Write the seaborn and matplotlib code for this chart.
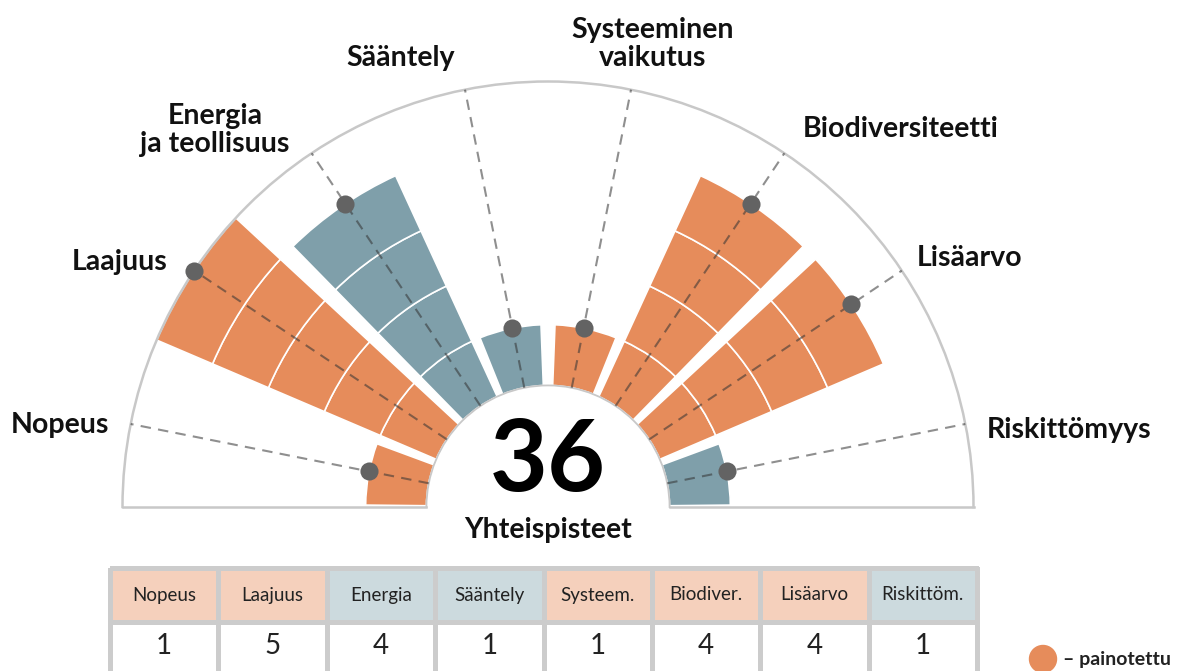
import numpy as np
import matplotlib
matplotlib.use("Agg")
import matplotlib.pyplot as plt
from matplotlib.colors import ListedColormap
from matplotlib.patches import Ellipse
import seaborn as sns

# Data
categories = ["Nopeus", "Laajuus", "Energia\nja teollisuus", "Sääntely",
              "Systeeminen\nvaikutus", "Biodiversiteetti", "Lisäarvo", "Riskittömyys"]
short_labels = ["Nopeus", "Laajuus", "Energia", "Sääntely",
                "Systeem.", "Biodiver.", "Lisäarvo", "Riskittöm."]
scores = [1, 5, 4, 1, 1, 4, 4, 1]
weighted = [True, True, False, False, True, True, True, False]
total = sum(s * (2 if w else 1) for s, w in zip(scores, weighted))

ORANGE = "#E68C5B"
BLUE = "#7F9FAA"
LIGHT_ORANGE = "#F5D0BC"
LIGHT_BLUE = "#CCDADE"
GRID = "#C8C8C8"

sns.set_theme(style="white")
plt.rcParams["font.family"] = ["Lato", "DejaVu Sans"]

W, H = 1184, 671
fig = plt.figure(figsize=(W / 100, H / 100), dpi=100)

# polar half-annulus, centre at (548, 507) px, outer radius 425 px
cx, cy, R = 548, 507, 425.5
side = 2 * R
ax = fig.add_axes([(cx - R) / W, (H - cy - side / 4) / H, side / W, side / H],
                  projection="polar")
ax.set_thetamin(0)
ax.set_thetamax(180)
ax.set_rorigin(0)
ax.set_ylim(2, 7)
ax.set_xticks([])
ax.set_yticks([])
ax.grid(False)
for name, sp in ax.spines.items():
    sp.set_color(GRID)
    sp.set_linewidth(1.3 if name == "inner" else 1.8)

n = len(categories)
sector = np.pi / n
centers = np.pi - sector * (np.arange(n) + 0.5)
bar_w = np.deg2rad(19.7)
# bars lean slightly towards the baseline on each side
shift = np.deg2rad(0.8) * np.where(centers > np.pi / 2, 1, -1)

for th, sh, s, w in zip(centers, shift, scores, weighted):
    col = ORANGE if w else BLUE
    for k in range(s):
        ax.bar(th + sh, 1, width=bar_w, bottom=2 + k, color=col,
               edgecolor="white", linewidth=1.2, zorder=2)
    ax.plot([th, th], [2, 7], color="#333333", alpha=0.55, lw=1.5,
            ls=(0, (5, 3.5)), zorder=3, clip_on=False)
ax.scatter(centers, [2 + s for s in scores], s=170, color="#636363",
           zorder=4, clip_on=False, linewidths=0)

# category labels
label_pos = [(60, 425), (120, 262), (215, 130), (401, 58),
             (653, 44), (901, 129), (970, 258), (1069, 430)]
for lab, (x, y) in zip(categories, label_pos):
    fig.text(x / W, 1 - y / H, lab, ha="center", va="center", fontsize=20.5,
             fontweight="bold", color="#111111", linespacing=1.1)

fig.text(cx / W, 1 - 462 / H, str(total), ha="center", va="center",
         fontsize=72, fontweight="bold", color="#000000")
fig.text(cx / W, 1 - 530 / H, "Yhteispisteet", ha="center", va="center",
         fontsize=20.5, fontweight="bold", color="#111111")

# table
tax = fig.add_axes([110 / W, 1 - 676 / H, 867 / W, 108 / H])
codes = np.array([[0 if w else 1 for w in weighted], [2] * n])
sns.heatmap(codes, ax=tax, cmap=ListedColormap([LIGHT_ORANGE, LIGHT_BLUE, "white"]),
            vmin=-0.5, vmax=2.5, cbar=False, linewidths=2.5, linecolor="#CCCCCC",
            xticklabels=False, yticklabels=False)
tax.collections[0].set_clip_on(False)
for j in range(n):
    tax.text(j + 0.5, 0.5, short_labels[j], ha="center", va="center",
             fontsize=13.5, color="#222222")
    tax.text(j + 0.5, 1.45, str(scores[j]), ha="center", va="center",
             fontsize=20, color="#222222")

# legend
fig.patches.append(Ellipse((1043 / W, 1 - 659 / H), 27 / W, 27 / H,
                           transform=fig.transFigure, color=ORANGE, figure=fig))
fig.text(1063 / W, 1 - 659 / H, "– painotettu", ha="left", va="center",
         fontsize=14, fontweight="bold", color="#222222")

fig.savefig("out.png", dpi=100)
